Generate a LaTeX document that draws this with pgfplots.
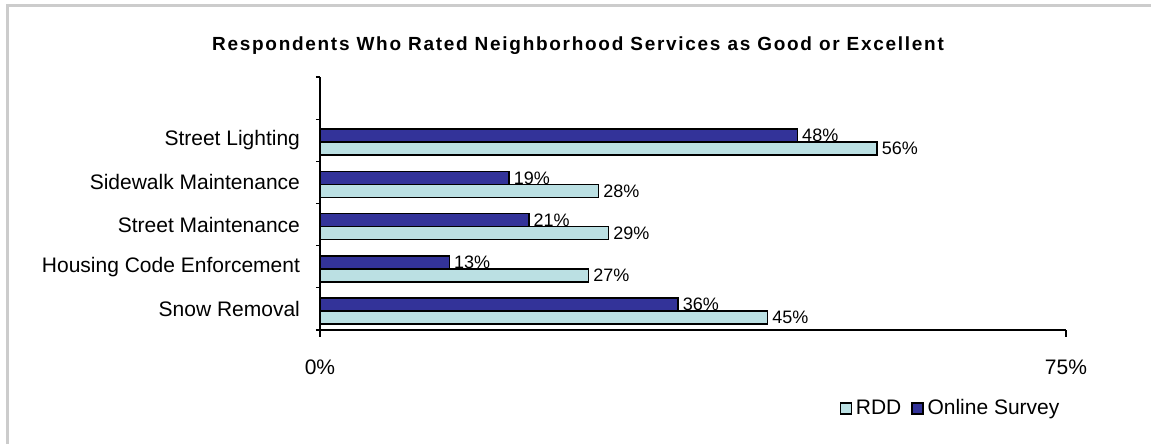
\documentclass[border=0pt]{standalone}
\usepackage{fontspec}
\setmainfont{Liberation Sans}
\newfontfamily\titlefont[LetterSpace=9]{Liberation Sans}
\usepackage{pgfplots}
\pgfplotsset{compat=1.18}
\definecolor{darkbar}{RGB}{51,51,153}
\definecolor{lightbar}{RGB}{187,224,227}
\definecolor{framegray}{RGB}{204,204,204}
\begin{document}
\begin{tikzpicture}[x=1pt,y=1pt]
\useasboundingbox (0,0) rectangle (575.5,222);
\fill[white] (0,0) rectangle (575.5,222);
\draw[framegray, line width=1.5pt] (3.5,0) -- (3.5,219.25) -- (575.5,219.25);
\node[font=\titlefont\fontsize{9.5}{11}\selectfont\bfseries] at (289,199) {Respondents Who Rated Neighborhood Services as Good or Excellent};
\begin{axis}[
  at={(160pt,57pt)}, anchor=south west,
  scale only axis, width=373pt, height=126.5pt,
  xbar, bar width=6.5pt,
  xmin=0, xmax=75, ymin=-0.5, ymax=5.5,
  axis lines*=left,
  axis line style={black, line width=0.6pt, -},
  xtick={0,75}, xticklabels={0\%,75\%},
  ytick={0,1,2,3,4},
  yticklabels={Snow Removal, Housing Code Enforcement, Street Maintenance, Sidewalk Maintenance, Street Lighting},
  minor ytick={-0.5,0.5,...,5.5},
  tick align=outside,
  major tick length=3.5pt, minor tick length=2pt,
  major y tick style={draw=none},
  tick style={black, line width=0.6pt},
  ticklabel style={font=\fontsize{10.5}{12}\selectfont},
  xticklabel style={yshift=-8pt},
  yticklabel style={xshift=-3pt},
  point meta=x,
  nodes near coords={\pgfmathprintnumber{\pgfplotspointmeta}\%},
  nodes near coords align={horizontal},
  every node near coord/.append style={font=\fontsize{9}{10}\selectfont, /pgf/number format/assume math mode=true, inner sep=2pt},
  legend columns=2,
  legend style={draw=none, fill=none, font=\fontsize{10.5}{12}\selectfont, at={(0.688,-0.31)}, anchor=west, /tikz/every even column/.append style={column sep=3pt}},
  legend image code/.code={\draw[#1, draw=black, line width=0.6pt] (0pt,-2.75pt) rectangle (5.5pt,2.75pt);},
  clip=false,
]
\addplot[fill=lightbar, draw=black, line width=0.8pt, bar shift=-4.25pt] coordinates {(45,0) (27,1) (29,2) (28,3) (56,4)};
\addlegendentry{RDD}
\addplot[fill=darkbar, draw=black, line width=0.8pt, bar shift=2.25pt] coordinates {(36,0) (13,1) (21,2) (19,3) (48,4)};
\addlegendentry{Online Survey}
\end{axis}
\end{tikzpicture}
\end{document}
